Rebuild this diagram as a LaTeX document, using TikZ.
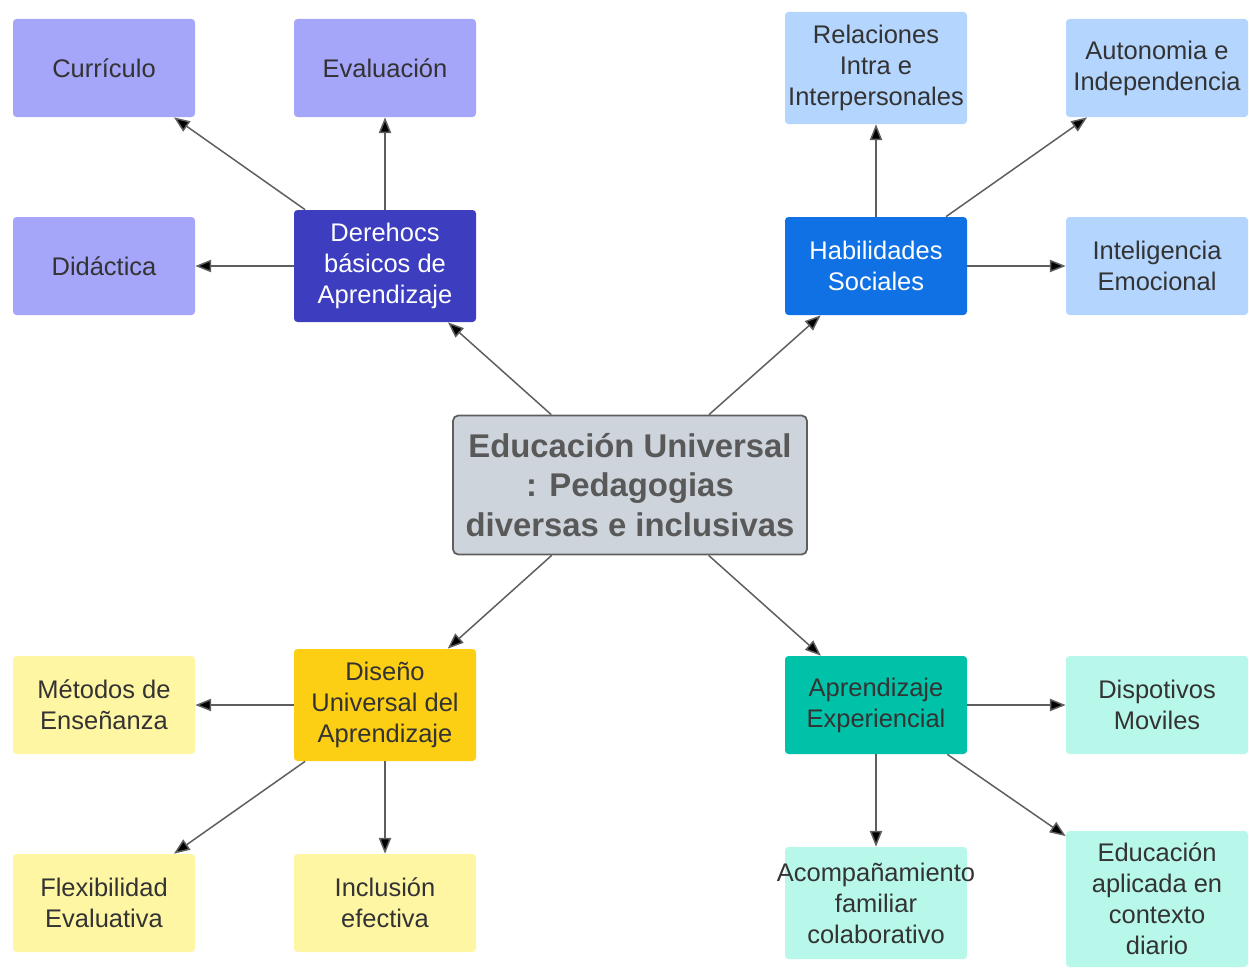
\documentclass[tikz,border=0pt]{standalone}
\usepackage{fontspec}
\setmainfont{Liberation Sans}
\usetikzlibrary{positioning, arrows.meta}

\definecolor{linkgray}{HTML}{5E5E5E}
\definecolor{textgray}{HTML}{333333}
\definecolor{coregray}{HTML}{CED4DB}
\definecolor{coretext}{HTML}{595959}
\definecolor{indigo}{HTML}{3D3DBF}
\definecolor{lavender}{HTML}{A5A5F9}
\definecolor{royal}{HTML}{1071E5}
\definecolor{skyblue}{HTML}{B3D5FE}
\definecolor{gold}{HTML}{FCCE14}
\definecolor{cream}{HTML}{FFF6A4}
\definecolor{teal}{HTML}{00C2A8}
\definecolor{mint}{HTML}{B8F8EA}

\begin{document}
\begin{tikzpicture}[on grid, node distance=3.96cm and 5.62cm,
        box/.style={rounded corners=2pt, align=center, inner sep=0pt,
            minimum width=3.64cm, minimum height=1.96cm, text=textgray,
            font=\fontsize{14.5}{17.6}\selectfont},
        tall/.style={minimum height=2.24cm},
        core/.style={draw=linkgray, line width=1pt, fill=coregray, rounded corners=3pt,
            align=center, minimum width=7.08cm, minimum height=2.78cm, inner sep=0pt,
            text=coretext, font=\fontsize{18.7}{22.7}\selectfont\bfseries},
        link/.style={draw=linkgray, line width=0.85pt, -{Triangle[length=9pt, width=7pt]}}]
        \useasboundingbox (0,0) rectangle (24.98,-19.34);
        \node[core] (ctr) at (12.6,-9.7) {Educación Universal\\: Pedagogias\\diversas e inclusivas};
        % hubs
        \node[box, tall, fill=indigo, text=white, above left=4.38cm and 4.9cm of ctr] (der) {Derehocs\\básicos de\\Aprendizaje};
        \node[box, fill=royal, text=white, above right=4.38cm and 4.92cm of ctr] (hab) {Habilidades\\Sociales};
        \node[box, tall, fill=gold, below left=4.4cm and 4.9cm of ctr] (dis) {Diseño\\Universal del\\Aprendizaje};
        \node[box, fill=teal, below right=4.4cm and 4.92cm of ctr] (exp) {Aprendizaje\\Experiencial};
        % leaves
        \node[box, fill=lavender, above left=of der] (cur) {Currículo};
        \node[box, fill=lavender, above=of der] (eva) {Evaluación};
        \node[box, fill=lavender, left=of der] (did) {Didáctica};
        \node[box, tall, fill=skyblue, above=of hab] (rel) {Relaciones\\Intra e\\Interpersonales};
        \node[box, fill=skyblue, above right=of hab] (aut) {Autonomia e\\Independencia};
        \node[box, fill=skyblue, right=of hab] (emo) {Inteligencia\\Emocional};
        \node[box, fill=cream, left=of dis] (met) {Métodos de\\Enseñanza};
        \node[box, fill=cream, below left=of dis] (fle) {Flexibilidad\\Evaluativa};
        \node[box, fill=cream, below=of dis] (inc) {Inclusión\\efectiva};
        \node[box, fill=mint, right=of exp] (mov) {Dispotivos\\Moviles};
        \node[box, tall, fill=mint, below=of exp] (fam) {\makebox[0pt]{Acompañamiento}\\familiar\\colaborativo};
        \node[box, fill=mint, minimum height=2.72cm, below right=3.88cm and 5.62cm of exp] (dia) {Educación\\aplicada en\\contexto\\diario};
        \path[link]
                (ctr) edge (der)
                (ctr) edge (hab)
                (ctr) edge (dis)
                (ctr) edge (exp)
                (der) edge (cur)
                (der) edge (eva)
                (der) edge (did)
                (hab) edge (rel)
                (hab) edge (aut)
                (hab) edge (emo)
                (dis) edge (met)
                (dis) edge (fle)
                (dis) edge (inc)
                (exp) edge (mov)
                (exp) edge (fam)
                (exp) edge (dia);
\end{tikzpicture}
\end{document}
